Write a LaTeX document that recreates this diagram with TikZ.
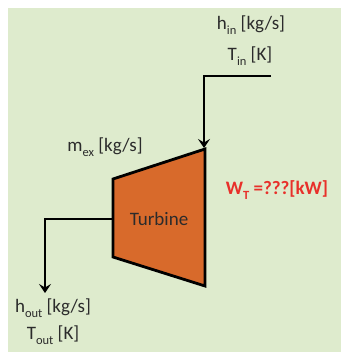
\documentclass[tikz,border=0pt]{standalone}
\usepackage{fontspec}
\setmainfont{Carlito}
\usetikzlibrary{arrows.meta}
\definecolor{bggreen}{HTML}{DEEBCD}
\definecolor{turb}{HTML}{D86A2B}
\definecolor{redtxt}{HTML}{E8302A}
\definecolor{txt}{HTML}{2B2B2B}
\newcommand{\mysub}[1]{\raisebox{-0.28em}{\fontsize{12.5}{13}\selectfont #1}}
\tikzset{
  pipe/.style={line width=2.8pt, draw=black},
  arr/.style={pipe, -{Stealth[length=9pt,width=12pt,inset=3.5pt]}},
  lbl/.style={text=txt, font=\fontsize{19}{21}\selectfont, inner sep=0pt},
}
\begin{document}
\begin{tikzpicture}[x=1pt,y=-1pt]
\useasboundingbox (0,0) rectangle (341,352);
\fill[white] (0,0) rectangle (341,352);
\fill[bggreen] (8,8) rectangle (341,352);
% turbine
\draw[line width=2.8pt, fill=turb, line join=miter] (113,179) -- (205,149) -- (205,286) -- (113,257) -- cycle;
\node[lbl] (turbine) at (159,219) {Turbine};
\coordinate (tin) at (204,148);
\coordinate (inS) at (271,76);
\coordinate (inC) at (204,76);
\coordinate (outS) at (112,219);
\coordinate (outC) at (45,219);
\coordinate (outE) at (45,293);
\draw[arr] (inS) -- (inC) -- (tin);
\draw[arr] (outS) -- (outC) -- (outE);
\node[lbl] (hin) at (251,25) {h\mysub{in} [kg/s]};
\node[lbl] (Tin) at (250,56) {T\mysub{in} [K]};
\node[lbl] (mex) at (105,147) {m\mysub{ex} [kg/s]};
\node[lbl, text=redtxt, font=\bfseries\fontsize{19}{21}\selectfont] (wt) at (277,190) {W\mysub{T} =???[kW]};
\node[lbl] (hout) at (53,308) {h\mysub{out} [kg/s]};
\node[lbl] (Tout) at (53,335) {T\mysub{out} [K]};
\end{tikzpicture}
\end{document}
